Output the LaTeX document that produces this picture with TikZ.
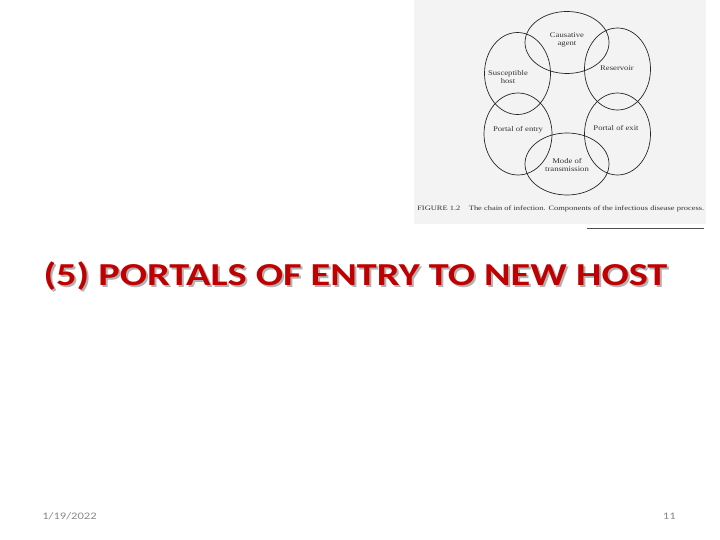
\documentclass[tikz,border=0pt]{standalone}
\usepackage{fontspec}
\setmainfont{Carlito}
\newfontfamily\figfont{Liberation Serif}
\definecolor{titlered}{HTML}{C00000}
\definecolor{scanbg}{HTML}{F3F3F3}
\definecolor{foot}{HTML}{8A8A8A}
\tikzset{
  ring/.style={draw=black!85, line width=0.7pt},
  lbl/.style={font=\figfont\fontsize{7.2}{8}\selectfont, align=center, text=black!80, inner sep=0pt, xscale=1.2, transform shape},
  titletxt/.style={font=\bfseries\fontsize{32}{36}\selectfont, anchor=base, inner sep=0pt, xscale=1.26, transform shape},
  foottxt/.style={font=\fontsize{10}{11}\selectfont, text=foot, inner sep=0pt, xscale=1.26, transform shape}
}
\begin{document}
\begin{tikzpicture}[x=1pt,y=-1pt]
\useasboundingbox (0,0) rectangle (720,540);
\fill[white] (0,0) rectangle (720,540);
% scanned figure
\fill[scanbg] (414,0) rectangle (706,224);
\draw[ring] (567,42.5) ellipse [x radius=42, y radius=31];
\draw[ring] (617.5,69) ellipse [x radius=33, y radius=41];
\draw[ring] (617.5,134) ellipse [x radius=33, y radius=41];
\draw[ring] (567,164) ellipse [x radius=42, y radius=31];
\draw[ring] (518,134) ellipse [x radius=34, y radius=41];
\draw[ring] (517.5,73.5) ellipse [x radius=33, y radius=41];
\node[lbl] (ca) at (567,40) {Causative\\agent};
\node[lbl] (re) at (617,68) {Reservoir};
\node[lbl] (sh) at (508,77) {Susceptible\\host};
\node[lbl] (pe) at (616,128) {Portal of exit};
\node[lbl] (pn) at (518,130) {Portal of entry};
\node[lbl] (mt) at (567,165) {Mode of\\transmission};
\node[font=\figfont\fontsize{6.7}{7}\selectfont, text=black!80, anchor=west, inner sep=0pt, xscale=1.26, transform shape] (cap) at (417,209) {FIGURE 1.2\quad The chain of infection. Components of the infectious disease process.};
\draw[black!70, line width=0.6pt] (587,228) -- (704,228);
% title
\node[titletxt, text=black!30] (tsh) at (357.5,287) {(5) PORTALS OF ENTRY TO NEW HOST};
\node[titletxt, text=titlered] (title) at (355.5,285) {(5) PORTALS OF ENTRY TO NEW HOST};
% footer
\node[foottxt, anchor=base west] (date) at (42,519) {1/19/2022};
\node[foottxt, anchor=base east] (pg) at (676,519) {11};
\end{tikzpicture}
\end{document}
